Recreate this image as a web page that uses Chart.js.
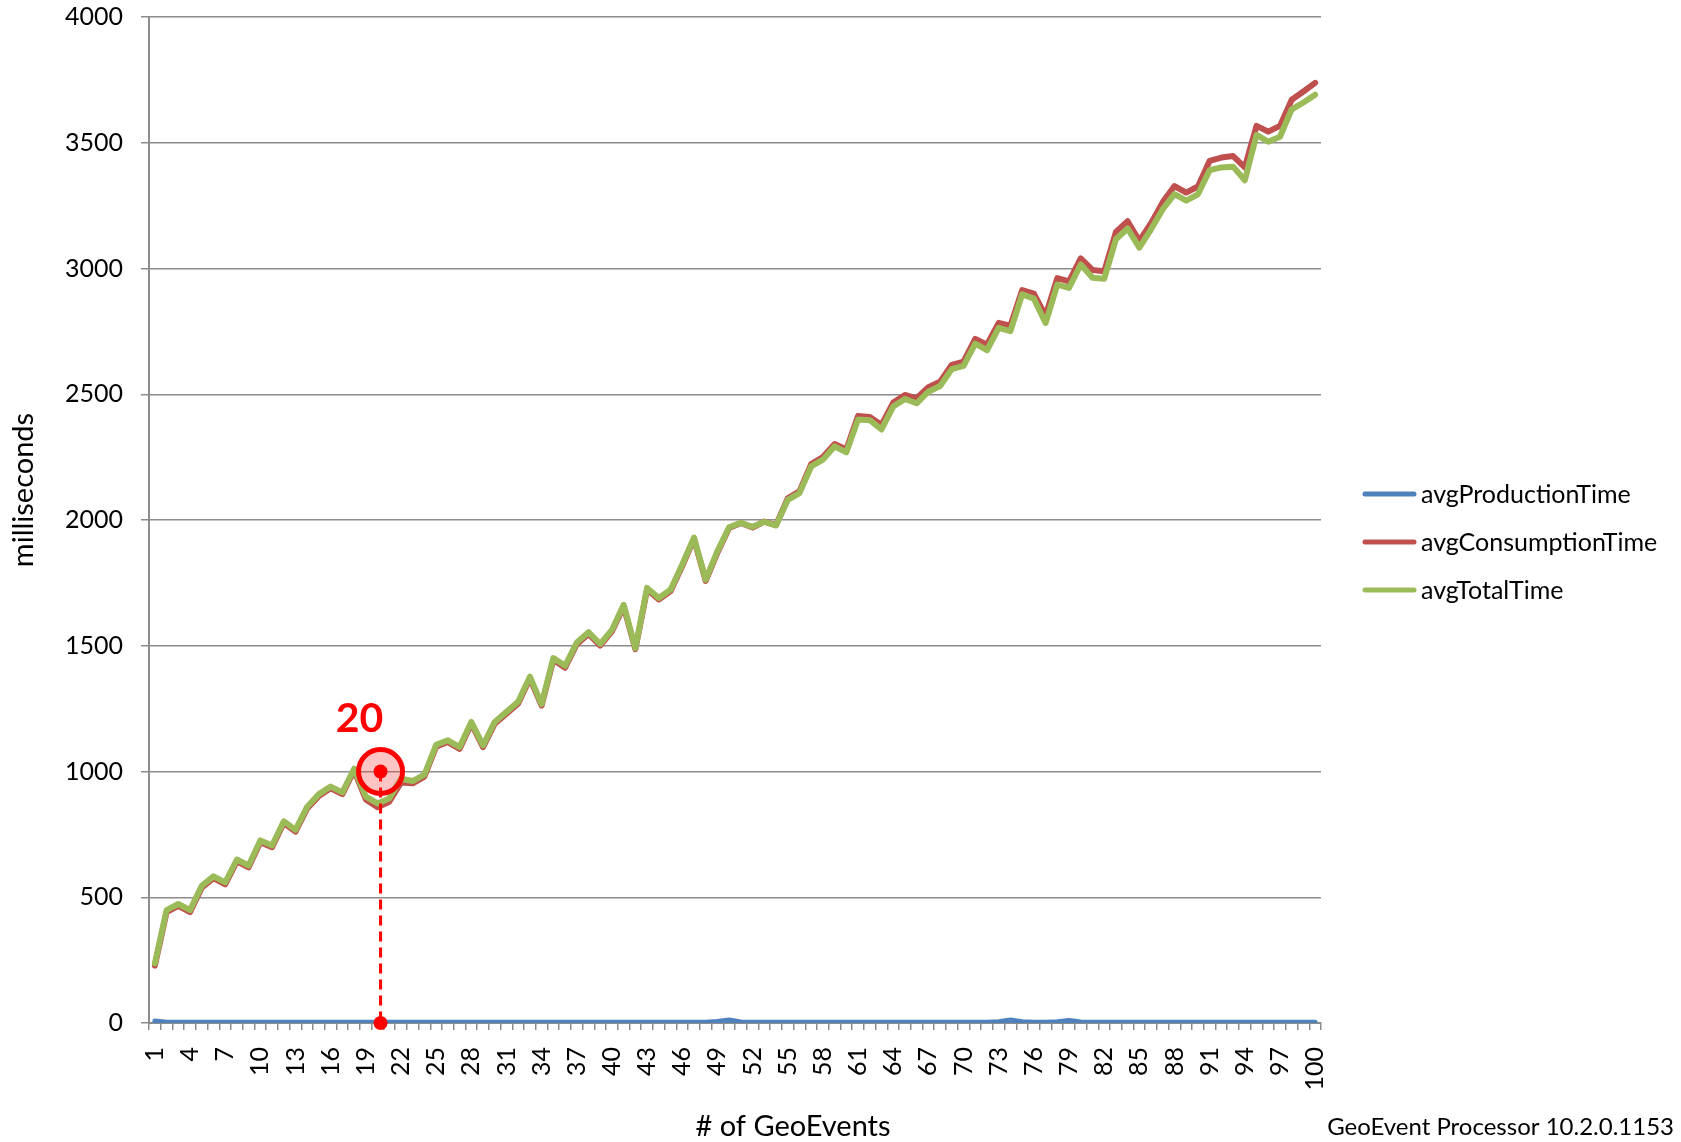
<!DOCTYPE html>
<html>
<head>
<meta charset="utf-8">
<script src="https://cdn.jsdelivr.net/npm/chart.js@4.4.1/dist/chart.umd.min.js"></script>
<style>
  html, body { margin: 0; padding: 0; background: #fff; }
</style>
</head>
<body>
<canvas id="grafico" width="1681" height="1142"></canvas>
<script>
// categories: # of GeoEvents
const geoEvents = [1,2,3,4,5,6,7,8,9,10,11,12,13,14,15,16,17,18,19,20,
  21,22,23,24,25,26,27,28,29,30,31,32,33,34,35,36,37,38,39,40,
  41,42,43,44,45,46,47,48,49,50,51,52,53,54,55,56,57,58,59,60,
  61,62,63,64,65,66,67,68,69,70,71,72,73,74,75,76,77,78,79,80,
  81,82,83,84,85,86,87,88,89,90,91,92,93,94,95,96,97,98,99,100];

// only every third category gets a label
const tickLabels = ['1','4','7','10','13','16','19','22','25','28','31','34','37','40','43','46','49',
  '52','55','58','61','64','67','70','73','76','79','82','85','88','91','94','97','100'];

const yTicks = [0, 500, 1000, 1500, 2000, 2500, 3000, 3500, 4000];

const avgProductionTime = [8,3,3,3,3,3,3,3,3,3,3,3,3,3,3,3,3,3,3,3,
  3,3,3,3,3,3,3,3,3,3,3,3,3,3,3,3,3,3,3,3,
  3,3,3,3,3,3,3,3,6,12,4,3,3,3,3,3,3,3,3,3,
  3,3,3,3,3,3,3,3,3,3,3,3,5,12,5,3,3,5,10,4,
  3,3,3,3,3,3,3,3,3,3,3,3,3,3,3,3,3,3,3,3];

const avgConsumptionTime = [228,441,466,441,538,576,551,643,619,719,699,795,761,853,903,933,910,1004,889,858,
  880,956,953,980,1099,1117,1090,1190,1097,1190,1230,1270,1370,1262,1444,1413,1506,1547,1501,1557,
  1656,1486,1724,1684,1717,1817,1925,1758,1870,1968,1988,1970,1994,1980,2086,2114,2222,2250,2302,2280,
  2414,2410,2378,2467,2497,2484,2528,2550,2617,2630,2720,2697,2784,2773,2914,2900,2812,2962,2949,3040,
  2994,2989,3145,3188,3110,3180,3264,3328,3302,3326,3428,3441,3447,3402,3567,3544,3567,3671,3704,3738];

const avgTotalTime = [237,449,473,449,545,583,559,650,626,726,706,802,768,860,910,940,917,1011,900,873,
  893,971,962,988,1106,1124,1097,1197,1104,1197,1237,1277,1377,1268,1451,1420,1513,1554,1507,1563,
  1663,1490,1730,1690,1723,1823,1930,1763,1876,1971,1989,1973,1993,1978,2080,2107,2213,2240,2293,2269,
  2400,2397,2360,2451,2481,2464,2510,2533,2600,2613,2701,2675,2764,2751,2897,2880,2783,2936,2923,3016,
  2963,2959,3116,3159,3083,3156,3236,3296,3270,3295,3391,3402,3405,3351,3531,3504,3524,3633,3660,3691];

// highlighted point
const markEvent = 20;
const markValue = 1000;

const FONT = 'Lato, "Open Sans", sans-serif';

const extras = {
  id: 'extras',
  afterDatasetsDraw(chart) {
    const ctx = chart.ctx;
    const x = chart.scales.x.getPixelForValue(geoEvents.indexOf(markEvent)) + 3;
    const y = chart.scales.y.getPixelForValue(markValue);
    const y0 = chart.scales.y.getPixelForValue(0);
    ctx.save();
    // dashed drop line
    ctx.strokeStyle = '#ff0000';
    ctx.lineWidth = 3;
    ctx.setLineDash([10, 6]);
    ctx.beginPath();
    ctx.moveTo(x, y);
    ctx.lineTo(x, y0);
    ctx.stroke();
    ctx.setLineDash([]);
    // ring
    ctx.beginPath();
    ctx.arc(x, y, 22, 0, Math.PI * 2);
    ctx.fillStyle = 'rgba(255, 60, 60, 0.3)';
    ctx.fill();
    ctx.lineWidth = 5;
    ctx.strokeStyle = '#ff0000';
    ctx.stroke();
    // dots
    ctx.fillStyle = '#ff0000';
    ctx.beginPath();
    ctx.arc(x, y, 7, 0, Math.PI * 2);
    ctx.fill();
    ctx.beginPath();
    ctx.arc(x, y0, 7, 0, Math.PI * 2);
    ctx.fill();
    // label
    ctx.font = 'bold 41px ' + FONT;
    ctx.textAlign = 'center';
    ctx.textBaseline = 'middle';
    ctx.fillText(String(markEvent), x - 21, y - 53);
    ctx.restore();
  },
  afterDraw(chart) {
    const ctx = chart.ctx;
    ctx.save();
    ctx.fillStyle = '#000';
    ctx.textBaseline = 'middle';

    // y axis title
    ctx.font = '29px ' + FONT;
    ctx.save();
    ctx.translate(24, 490);
    ctx.rotate(-Math.PI / 2);
    ctx.textAlign = 'center';
    ctx.fillText('milliseconds', 0, 0);
    ctx.restore();

    // x axis title + footer
    ctx.textAlign = 'center';
    ctx.fillText('# of GeoEvents', 793, 1127);
    ctx.font = '24px ' + FONT;
    ctx.textAlign = 'right';
    ctx.fillText('GeoEvent Processor 10.2.0.1153', 1674, 1127);

    // legend
    const rows = [494, 542, 590];
    ctx.font = '25px ' + FONT;
    ctx.textAlign = 'left';
    chart.data.datasets.forEach((ds, i) => {
      ctx.strokeStyle = ds.borderColor;
      ctx.lineWidth = 5;
      ctx.lineCap = 'round';
      ctx.beginPath();
      ctx.moveTo(1365, rows[i]);
      ctx.lineTo(1414, rows[i]);
      ctx.stroke();
      ctx.fillStyle = '#000';
      ctx.fillText(ds.label, 1421, rows[i] + 1);
    });
    ctx.restore();
  }
};

new Chart(document.getElementById('grafico'), {
  type: 'line',
  data: {
    labels: geoEvents,
    datasets: [
      { label: 'avgProductionTime', data: avgProductionTime, borderColor: '#4f81bd', borderWidth: 5, order: 3 },
      { label: 'avgConsumptionTime', data: avgConsumptionTime, borderColor: '#c0504d', borderWidth: 6, order: 2 },
      { label: 'avgTotalTime', data: avgTotalTime, borderColor: '#9bbb59', borderWidth: 6, order: 1 }
    ]
  },
  options: {
    responsive: false,
    animation: false,
    layout: { padding: { top: 17, right: 360, bottom: 0, left: 0 } },
    elements: {
      point: { radius: 0, hoverRadius: 0 },
      line: { tension: 0, borderJoinStyle: 'round', borderCapStyle: 'round', fill: false }
    },
    plugins: {
      legend: { display: false },
      tooltip: { enabled: false }
    },
    scales: {
      x: {
        type: 'category',
        offset: true,
        afterFit: (scale) => {
          scale.height = 119;
          scale.paddingTop = 0;
          scale.paddingBottom = 0;
        },
        grid: { drawOnChartArea: false, offset: true, tickLength: 7, color: '#8c8c8c', lineWidth: 1.5 },
        border: { display: true, color: '#8c8c8c', width: 2 },
        ticks: {
          autoSkip: false,
          minRotation: 90,
          maxRotation: 90,
          padding: 17,
          color: '#000',
          font: { family: FONT, size: 25 },
          callback: function (value, index) {
            const lab = String(geoEvents[index]);
            return tickLabels.includes(lab) ? lab : '';
          }
        }
      },
      y: {
        min: yTicks[0],
        max: yTicks[yTicks.length - 1],
        afterFit: (scale) => {
          scale.width = 149;
          scale.paddingTop = 0;
          scale.paddingBottom = 0;
        },
        afterBuildTicks: (scale) => { scale.ticks = yTicks.map(v => ({ value: v })); },
        grid: { color: '#8c8c8c', lineWidth: 1.5, tickLength: 8 },
        border: { display: true, color: '#8c8c8c', width: 2 },
        ticks: {
          padding: 18,
          color: '#000',
          font: { family: FONT, size: 25 },
          callback: (v) => String(v)
        }
      }
    }
  },
  plugins: [extras]
});
</script>
</body>
</html>
